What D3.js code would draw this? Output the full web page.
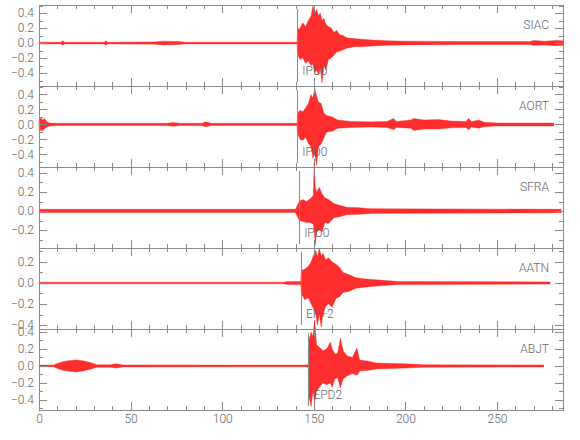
<!DOCTYPE html>
<html>
<head>
<meta charset="utf-8">
<title>Seismograms</title>
<script src="https://d3js.org/d3.v7.min.js"></script>
<style>
body { margin: 0; background: #fff; }
svg text { font-family: "Liberation Sans Narrow", Roboto, "Liberation Sans", sans-serif; font-weight: 300; fill: #666; }
.axis path, .axis line { stroke: #8a8a8a; shape-rendering: crispEdges; }
.trace { fill: #ff0000; fill-opacity: 0.82; stroke: #ff1a1a; stroke-width: 0.6; stroke-opacity: 0.6; }
.pick { stroke: #8a8a8a; stroke-width: 1; shape-rendering: crispEdges; }
</style>
</head>
<body>
<div id="chart"></div>
<script>
// station names, pick labels and pick times (s)
var stations = ["SIAC", "AORT", "SFRA", "AATN", "ABJT"];
var picks = ["IPU0", "IPD0", "IPU0", "EP+2", "EPD2"];
var pickTimes = [141, 141, 142, 143, 147];

// y range of each panel
var yDomains = [[-0.573, 0.507], [-0.567, 0.513], [-0.389, 0.463], [-0.438, 0.333], [-0.518, 0.435]];
var xDomain = [0, 286];

// tick values
var xMajor = [0, 50, 100, 150, 200, 250];
var xMinor = [10, 20, 30, 40, 60, 70, 80, 90, 110, 120, 130, 140, 160, 170, 180, 190, 210, 220, 230, 240, 260, 270, 280];
var yMajor = [-0.4, -0.2, 0, 0.2, 0.4];
var yMinor = [-0.5, -0.3, -0.1, 0.1, 0.3, 0.5];

// trace envelopes: [time, max, min]
var siac = [[0,0.012,-0.012],[12,0.012,-0.012],[13,0.03,-0.03],[14,0.012,-0.012],[35.5,0.012,-0.012],[36.5,0.03,-0.03],[37.5,0.012,-0.012],
  [63,0.015,-0.015],[68,0.025,-0.025],[76,0.02,-0.02],[80,0.012,-0.012],[140.8,0.012,-0.012],[141.2,0.18,-0.15],[142.5,0.2,-0.22],
  [144,0.27,-0.2],[145.5,0.22,-0.27],[147,0.3,-0.24],[148.5,0.36,-0.3],[149.5,0.5,-0.28],[150.5,0.4,-0.4],[151.5,0.45,-0.36],
  [152.5,0.36,-0.42],[153.5,0.4,-0.33],[154.5,0.3,-0.53],[155.5,0.33,-0.3],[156.5,0.25,-0.36],[158,0.22,-0.22],[159.5,0.2,-0.2],
  [161,0.14,-0.16],[162.5,0.17,-0.12],[164,0.11,-0.11],[166,0.1,-0.09],[168,0.07,-0.07],[172,0.06,-0.05],[176,0.05,-0.05],
  [182,0.04,-0.04],[190,0.03,-0.03],[200,0.025,-0.025],[230,0.02,-0.02],[268,0.02,-0.02],[270,0.035,-0.03],[276,0.025,-0.025],
  [282,0.035,-0.035],[286,0.03,-0.03]];
var aort = [[0,0.05,-0.05],[1,0.09,-0.08],[2,0.06,-0.08],[3,0.08,-0.06],[4.5,0.03,-0.03],[6,0.02,-0.02],[10,0.015,-0.015],
  [70,0.015,-0.015],[73,0.025,-0.025],[77,0.015,-0.015],[89,0.015,-0.015],[91,0.035,-0.03],[94,0.015,-0.015],[140.8,0.015,-0.015],
  [141.2,0.15,-0.12],[142.5,0.19,-0.2],[144,0.17,-0.21],[145.5,0.22,-0.17],[147,0.28,-0.25],[148.5,0.4,-0.3],[149.5,0.35,-0.45],
  [150.5,0.49,-0.38],[151.5,0.38,-0.55],[152.5,0.3,-0.3],[154,0.28,-0.26],[155.5,0.15,-0.18],[157,0.12,-0.1],[160,0.1,-0.09],
  [163,0.06,-0.05],[170,0.04,-0.04],[181,0.035,-0.035],[190,0.04,-0.04],[193.5,0.08,-0.07],[195,0.04,-0.04],[203,0.06,-0.05],
  [204.5,0.08,-0.08],[210,0.06,-0.06],[218,0.065,-0.06],[225,0.045,-0.045],[233,0.04,-0.04],[234.5,0.08,-0.07],[236,0.035,-0.035],
  [240,0.06,-0.05],[243,0.03,-0.03],[250,0.02,-0.02],[281,0.02,-0.02]];
var sfra = [[0.5,0.018,-0.016],[140,0.018,-0.016],[142,0.1,-0.1],[144,0.12,-0.11],[146,0.1,-0.12],[148,0.13,-0.12],[149.7,0.16,-0.14],
  [150.2,0.5,-0.2],[150.8,0.25,-0.36],[151.5,0.2,-0.22],[153,0.25,-0.2],[154.5,0.18,-0.22],[156,0.14,-0.12],[158,0.12,-0.13],
  [161,0.08,-0.07],[164,0.06,-0.06],[168,0.04,-0.04],[175,0.035,-0.035],[181,0.025,-0.025],[285,0.018,-0.018]];
var aatn = [[0,0.008,-0.008],[133,0.008,-0.008],[136,0.015,-0.015],[142.8,0.015,-0.015],[143.2,0.12,-0.1],[145,0.13,-0.16],
  [147,0.16,-0.14],[148.5,0.2,-0.2],[150,0.27,-0.25],[151,0.31,-0.3],[152,0.25,-0.4],[153,0.33,-0.3],[154,0.26,-0.42],[155,0.28,-0.3],
  [156.5,0.22,-0.22],[158,0.24,-0.2],[160,0.2,-0.23],[162,0.18,-0.15],[164,0.15,-0.13],[166,0.1,-0.09],[169,0.08,-0.08],
  [173,0.05,-0.05],[180,0.035,-0.035],[188,0.025,-0.025],[196,0.015,-0.015],[279,0.01,-0.01]];
var abjt = [[0,0.01,-0.01],[8,0.01,-0.01],[10,0.03,-0.03],[13,0.05,-0.05],[16,0.06,-0.06],[20,0.07,-0.07],[24,0.06,-0.06],
  [28,0.04,-0.04],[31.5,0.015,-0.015],[39,0.015,-0.015],[42,0.025,-0.025],[46,0.012,-0.012],[145,0.01,-0.01],[147,0.015,-0.015],
  [147.3,0.3,-0.35],[148.5,0.4,-0.48],[149.5,0.35,-0.3],[150.5,0.54,-0.42],[151.5,0.25,-0.3],[153,0.22,-0.25],[155,0.18,-0.2],
  [157,0.2,-0.22],[159,0.28,-0.2],[160,0.2,-0.25],[161.5,0.14,-0.15],[163,0.15,-0.14],[164.5,0.33,-0.26],[166,0.18,-0.15],
  [168,0.12,-0.12],[171,0.1,-0.09],[173.5,0.21,-0.11],[175,0.07,-0.06],[180,0.055,-0.05],[184,0.035,-0.035],[200,0.025,-0.025],
  [210,0.015,-0.015],[275.5,0.012,-0.012]];
var traces = [siac, aort, sfra, aatn, abjt];

var W = 580, H = 440;
var left = 39, right = 563, top0 = 5, panelH = 81;

var svg = d3.select("#chart").append("svg")
    .attr("width", W)
    .attr("height", H);

var x = d3.scaleLinear().domain(xDomain).range([left, right]);

stations.forEach(function(name, i) {
  var pTop = top0 + i * panelH, pBot = pTop + panelH;
  var dom = yDomains[i];
  var y = d3.scaleLinear().domain(dom).range([pBot, pTop]);
  var inDom = function(v) { return v >= dom[0] && v <= dom[1]; };
  var g = svg.append("g");

  // trace
  var area = d3.area()
      .x(function(d) { return x(d[0]); })
      .y0(function(d) { return y(d[2]); })
      .y1(function(d) { return y(d[1]); });
  g.append("path")
      .datum(traces[i])
      .attr("class", "trace")
      .attr("d", area);

  // pick line and label
  g.append("line")
      .attr("class", "pick")
      .attr("x1", Math.round(x(pickTimes[i])) + 0.5)
      .attr("x2", Math.round(x(pickTimes[i])) + 0.5)
      .attr("y1", pTop + 4)
      .attr("y2", pBot - 4);
  g.append("text")
      .attr("x", x(pickTimes[i]) + 5)
      .attr("y", pBot - 11)
      .style("font-size", "12px")
      .text(picks[i]);

  // station name
  g.append("text")
      .attr("x", right - 14)
      .attr("y", pTop + 24)
      .attr("text-anchor", "end")
      .style("font-size", "12px")
      .text(name);

  // left axis
  g.append("g").attr("class", "axis")
      .attr("transform", "translate(" + left + ",0)")
      .call(d3.axisLeft(y).tickValues(yMinor.filter(inDom)).tickSizeInner(-4).tickSizeOuter(0).tickFormat(""));
  g.append("g").attr("class", "axis")
      .attr("transform", "translate(" + left + ",0)")
      .call(d3.axisLeft(y).tickValues(yMajor.filter(inDom)).tickSizeInner(-8).tickSizeOuter(0)
        .tickPadding(5).tickFormat(d3.format(".1f")))
      .selectAll("text").style("font-size", "12px");

  // right axis
  g.append("g").attr("class", "axis")
      .attr("transform", "translate(" + right + ",0)")
      .call(d3.axisRight(y).tickValues(yMinor.filter(inDom)).tickSizeInner(-4).tickSizeOuter(0).tickFormat(""));
  g.append("g").attr("class", "axis")
      .attr("transform", "translate(" + right + ",0)")
      .call(d3.axisRight(y).tickValues(yMajor.filter(inDom)).tickSizeInner(-8).tickSizeOuter(0).tickFormat(""));

  // top axis
  g.append("g").attr("class", "axis")
      .attr("transform", "translate(0," + pTop + ")")
      .call(d3.axisTop(x).tickValues(xMinor).tickSizeInner(-4).tickSizeOuter(0).tickFormat(""));
  g.append("g").attr("class", "axis")
      .attr("transform", "translate(0," + pTop + ")")
      .call(d3.axisTop(x).tickValues(xMajor).tickSizeInner(-8).tickSizeOuter(0).tickFormat(""));

  // bottom axis
  g.append("g").attr("class", "axis")
      .attr("transform", "translate(0," + pBot + ")")
      .call(d3.axisBottom(x).tickValues(xMinor).tickSizeInner(-4).tickSizeOuter(0).tickFormat(""));
  var bx = g.append("g").attr("class", "axis")
      .attr("transform", "translate(0," + pBot + ")")
      .call(d3.axisBottom(x).tickValues(xMajor).tickSizeInner(-8).tickSizeOuter(0).tickPadding(4)
        .tickFormat(i === stations.length - 1 ? d3.format("d") : ""));
  bx.selectAll("text").style("font-size", "12px");
});
</script>
</body>
</html>
